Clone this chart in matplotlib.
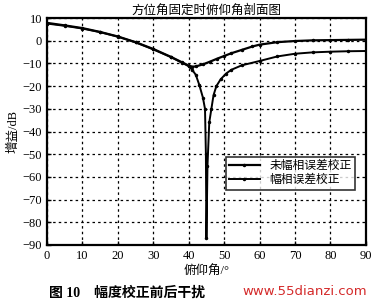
import numpy as np
import matplotlib.pyplot as plt

plt.rcParams['font.family'] = ['Liberation Serif', 'Noto Sans CJK SC']

# 俯仰角 (deg) and 增益 (dB)
ang_before = [0, 5, 10, 15, 20, 25, 30, 35, 38, 40, 41, 42, 44, 46, 48, 50, 52, 55,
              58, 60, 65, 70, 75, 80, 85, 90]
gain_before = [7.9, 6.8, 5.6, 3.9, 1.9, -0.6, -3.6, -7.1, -9.4, -10.9, -11.4, -11.3,
               -10.4, -9.2, -7.9, -6.7, -5.5, -4.0, -2.5, -1.7, -0.6, -0.1, 0.2,
               0.3, 0.4, 0.5]

ang_after = [0, 5, 10, 15, 20, 25, 30, 35, 38, 40, 41, 42, 43, 44, 44.6, 44.85, 45,
             45.3, 45.8, 46.4, 47, 47.8, 49, 50.5, 52, 55, 60, 65, 70, 75, 80, 85, 90]
gain_after = [7.6, 6.6, 5.4, 3.8, 1.8, -0.7, -3.8, -7.2, -9.6, -11.2, -12.8, -15.0,
              -19.5, -25.0, -30.0, -50.0, -87.0, -55.0, -36.0, -30.0, -24.0, -20.0,
              -17.0, -14.5, -12.8, -10.8, -8.9, -6.9, -5.7, -5.1, -4.8, -4.6, -4.5]

xticks = np.arange(0, 91, 10)
yticks = np.arange(-90, 11, 10)

fig = plt.figure(figsize=(3.76, 3.07), dpi=100)
ax = fig.add_axes([0.125, 0.202, 0.848, 0.739])

ax.plot(ang_before, gain_before, color='black', lw=1.6, marker='.', ms=3,
        label='未幅相误差校正')
ax.plot(ang_after, gain_after, color='black', lw=1.4, marker='.', ms=3,
        label='幅相误差校正')

ax.set_xlim(0, 90)
ax.set_ylim(-90, 10)
ax.set_xticks(xticks)
ax.set_yticks(yticks)
ax.set_yticklabels(['\u2212%d' % -v if v < 0 else str(v) for v in yticks])
ax.tick_params(direction='in', labelsize=9, length=3, width=1)
ax.grid(True, color='black', linestyle=(0, (2, 2.5)), linewidth=0.9)
for s in ax.spines.values():
    s.set_linewidth(1.6)

ax.set_title('方位角固定时俯仰角剖面图', fontsize=9, pad=3)
ax.set_xlabel('俯仰角/°', fontsize=9, labelpad=2)
ax.set_ylabel('增益/dB', fontsize=9, labelpad=2)

leg = ax.legend(loc='upper left', bbox_to_anchor=(0.56, 0.39), fontsize=8.5,
                frameon=True, fancybox=False, edgecolor='black', borderpad=0.3,
                handlelength=2.6, labelspacing=0.2, borderaxespad=0)
leg.get_frame().set_linewidth(1.2)

fig.text(0.13, 0.035, '图 10    幅度校正前后干扰', fontsize=10, fontweight='bold')
fig.text(0.645, 0.04, 'www.55dianzi.com', fontsize=9.5, color='#d42a2a',
         family='DejaVu Sans')

fig.savefig('out.png', dpi=100, facecolor='white')
